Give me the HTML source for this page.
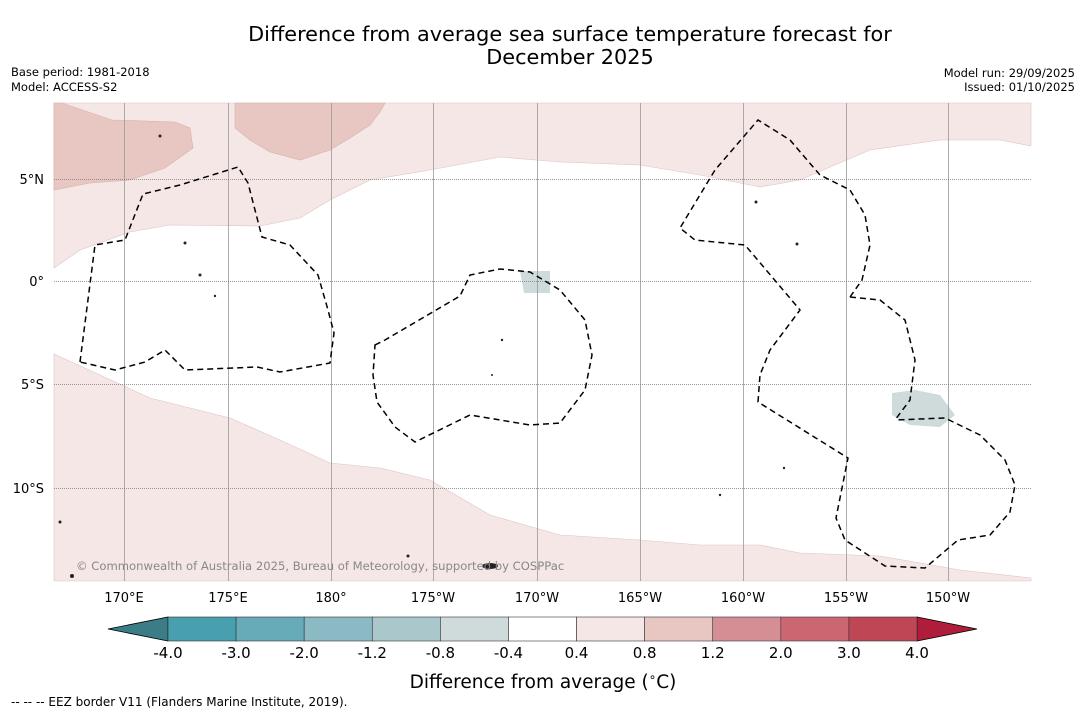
<!DOCTYPE html>
<html><head><meta charset="utf-8"><style>
body{margin:0;background:#fff;}
svg text{font-family:"DejaVu Sans","Liberation Sans",sans-serif;}
</style></head><body>
<svg width="1085" height="713" viewBox="0 0 1085 713" xmlns="http://www.w3.org/2000/svg">
<text x="570" y="41" font-size="20.8" text-anchor="middle">Difference from average sea surface temperature forecast for</text>
<text x="570" y="64" font-size="20.8" text-anchor="middle">December 2025</text>
<text x="11" y="76" font-size="11.5">Base period: 1981-2018</text>
<text x="11" y="91" font-size="11.5">Model: ACCESS-S2</text>
<text x="1075" y="77" font-size="11.5" text-anchor="end">Model run: 29/09/2025</text>
<text x="1075" y="91" font-size="11.5" text-anchor="end">Issued: 01/10/2025</text>

<g>
<rect x="54" y="103" width="977" height="478" fill="#fff"/>
<path fill="#f5e7e6" stroke="#dcc5c3" stroke-width="0.6" d="M54,268 L80,250 L130,232 L170,225 L260,226 L300,218 L330,200 L370,180 L430,170 L500,157 L560,162 L640,165 L700,175 L760,187 L800,180 L870,150 L940,140 L1000,140 L1031,146 L1031,103 L54,103Z"/>
<path fill="#e8c7c3" stroke="#d6b0ac" stroke-width="0.6" d="M54,103 L62,103 L112,120 L175,122 L190,128 L193,148 L165,168 L130,180 L90,183 L54,190Z"/>
<path fill="#e8c7c3" stroke="#d6b0ac" stroke-width="0.6" d="M235,103 L385,103 L380,112 L370,125 L350,138 L330,150 L300,160 L270,152 L250,140 L235,128Z"/>
<path fill="#f5e7e6" stroke="#dcc5c3" stroke-width="0.6" d="M54,354 L100,375 L150,398 L230,418 L280,440 L330,463 L380,468 L430,480 L490,515 L560,535 L640,540 L700,545 L760,545 L800,553 L880,556 L960,570 L1031,578 L1031,581 L54,581Z"/>
<path fill="#cfdadb" d="M520,271 L550,271 L550,293 L524,293Z"/>
<path fill="#cfdadb" d="M892,393 L915,390 L940,395 L955,415 L940,427 L910,425 L892,415Z"/>

<g stroke="#999" stroke-width="0.8">
<line x1="124.5" y1="103" x2="124.5" y2="581"/><line x1="228.5" y1="103" x2="228.5" y2="581"/><line x1="331.5" y1="103" x2="331.5" y2="581"/><line x1="433.5" y1="103" x2="433.5" y2="581"/><line x1="537.5" y1="103" x2="537.5" y2="581"/><line x1="640.5" y1="103" x2="640.5" y2="581"/><line x1="743.5" y1="103" x2="743.5" y2="581"/><line x1="846.5" y1="103" x2="846.5" y2="581"/><line x1="948.5" y1="103" x2="948.5" y2="581"/>
<g stroke-dasharray="1,1" stroke="#777"><line x1="54" y1="179.5" x2="1031" y2="179.5"/><line x1="54" y1="281.5" x2="1031" y2="281.5"/><line x1="54" y1="384.5" x2="1031" y2="384.5"/><line x1="54" y1="488.5" x2="1031" y2="488.5"/></g>
</g>

<g fill="none" stroke="#000" stroke-width="1.5" stroke-dasharray="6,4">
<path d="M80,362 L95,245 L125,240 L143,194 L180,185 L238,167 L248,183 L262,237 L290,245 L318,275 L328,310 L334,333 L330,363 L280,372 L257,367 L185,370 L165,350 L145,362 L115,370 Z"/>
<path d="M375,345 L385,340 L460,296 L470,275 L500,269 L530,272 L560,290 L585,320 L592,355 L585,390 L560,423 L530,425 L470,415 L415,442 L395,427 L377,402 L373,375 Z"/>
<path d="M850,297 L862,280 L870,245 L865,215 L850,190 L820,175 L790,140 L758,120 L715,170 L680,228 L695,240 L745,245 L800,310 L770,350 L760,375 L758,402 L848,458 L836,518 L845,540 L885,566 L925,568 L958,540 L990,535 L1010,512 L1015,485 L1005,460 L980,435 L945,418 L895,420"/>
<path d="M850,297 L880,300 L905,320 L915,360 L910,400 L895,420"/>
</g>
<g fill="#222">
<circle cx="160" cy="136" r="1.5"/><circle cx="185" cy="243" r="1.5"/><circle cx="200" cy="275" r="1.5"/><circle cx="215" cy="296" r="1.2"/><circle cx="502" cy="340" r="1.2"/><circle cx="492" cy="375" r="1"/><circle cx="756" cy="202" r="1.5"/><circle cx="797" cy="244" r="1.5"/><circle cx="784" cy="468" r="1.2"/><circle cx="60" cy="522" r="1.5"/><circle cx="72" cy="576" r="2"/><ellipse cx="490" cy="566" rx="8" ry="3"/><circle cx="408" cy="556" r="1.5"/><circle cx="720" cy="495" r="1.2"/>
</g>
<text x="76" y="570" font-size="11.6" fill="#888">© Commonwealth of Australia 2025, Bureau of Meteorology, supported by COSPPac</text>
</g>

<g font-size="13" fill="#000">
<text x="44" y="184" text-anchor="end">5°N</text><text x="44" y="286" text-anchor="end">0°</text><text x="44" y="389" text-anchor="end">5°S</text><text x="44" y="493" text-anchor="end">10°S</text>
</g>
<g font-size="13" fill="#000" text-anchor="middle">
<text x="124" y="602">170°E</text><text x="228" y="602">175°E</text><text x="331" y="602">180°</text><text x="433" y="602">175°W</text><text x="537" y="602">170°W</text><text x="640" y="602">165°W</text><text x="743" y="602">160°W</text><text x="846" y="602">155°W</text><text x="948" y="602">150°W</text>
</g>

<g id="cbar"></g>
<text x="543" y="688" font-size="18.5" text-anchor="middle">Difference from average (<tspan font-size="12" dy="-7">∘</tspan><tspan dy="7">C)</tspan></text>
<text x="11" y="706" font-size="12">--  --  -- EEZ border V11 (Flanders Marine Institute, 2019).</text>
</svg>
<script>
const cbarLabels = ["-4.0","-3.0","-2.0","-1.2","-0.8","-0.4","0.4","0.8","1.2","2.0","3.0","4.0"];
const cbarColors = ["#489fae","#68abb8","#8bbac4","#aac8cc","#cfdadb","#ffffff","#f5e7e6","#e8c7c3","#d68e95","#cb6771","#bf4655"];
const NS="http://www.w3.org/2000/svg";
const g=document.getElementById('cbar');
const x0=168,x1=917,y0=617,h=24,w=(x1-x0)/cbarColors.length;
function mk(t,a){const e=document.createElementNS(NS,t);for(const k in a)e.setAttribute(k,a[k]);g.appendChild(e);return e;}
let l=mk('polygon',{points:`108,629 ${x0},${y0} ${x0},${y0+h}`,fill:'#3a7d87',stroke:'#000','stroke-width':0.8});


let r=mk('polygon',{points:`977,629 ${x1},${y0} ${x1},${y0+h}`,fill:'#b01d3a',stroke:'#000','stroke-width':0.8});


cbarColors.forEach((c,i)=>{
  const e=mk('rect',{x:x0+i*w,y:y0,width:w,height:h,fill:c,stroke:'#333','stroke-width':0.6});
  
  
});
cbarLabels.forEach((s,i)=>{
  const t=mk('text',{x:x0+i*w,y:658,'font-size':15,'text-anchor':'middle'});
  t.textContent=s;
  
  
});
</script>
</body></html>
